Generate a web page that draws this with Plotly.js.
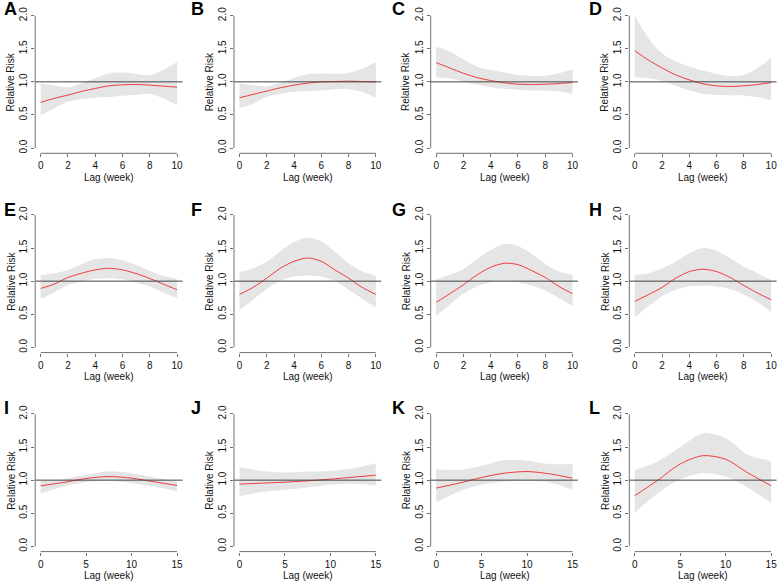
<!DOCTYPE html>
<html>
<head>
<meta charset="utf-8">
<script src="https://cdn.plot.ly/plotly-3.0.1.min.js"></script>
<style>
  body { margin: 0; background: #fff; }
  #chart { width: 778px; height: 581px; }
</style>
</head>
<body>
<div id="chart"></div>
<script>
// lag values (weeks)
var lag10 = [0, 1, 2, 3, 4, 5, 6, 7, 8, 9, 10];
var lag15 = [0, 2.5, 5, 7.5, 10, 12.5, 15];

var panels = ["A", "B", "C", "D", "E", "F", "G", "H", "I", "J", "K", "L"];

// relative risk, lower and upper bounds
var rrA = [0.69, 0.75, 0.80, 0.855, 0.90, 0.94, 0.955, 0.96, 0.95, 0.935, 0.92];
var loA = [0.49, 0.60, 0.70, 0.74, 0.76, 0.77, 0.79, 0.80, 0.82, 0.75, 0.65];
var hiA = [0.97, 0.945, 0.92, 0.98, 1.055, 1.13, 1.14, 1.12, 1.105, 1.18, 1.30];

var rrB = [0.76, 0.81, 0.86, 0.91, 0.95, 0.98, 1.0, 1.005, 1.01, 1.005, 1.0];
var loB = [0.60, 0.67, 0.77, 0.82, 0.85, 0.86, 0.87, 0.89, 0.89, 0.85, 0.76];
var hiB = [0.975, 0.95, 0.93, 0.985, 1.06, 1.115, 1.125, 1.12, 1.135, 1.20, 1.30];

var rrC = [1.29, 1.21, 1.13, 1.065, 1.02, 0.985, 0.965, 0.96, 0.965, 0.975, 0.99];
var loC = [1.065, 1.05, 1.005, 0.955, 0.92, 0.895, 0.88, 0.87, 0.87, 0.855, 0.82];
var hiC = [1.53, 1.46, 1.34, 1.23, 1.18, 1.14, 1.105, 1.09, 1.09, 1.13, 1.19];

var rrD = [1.47, 1.33, 1.21, 1.105, 1.03, 0.97, 0.94, 0.93, 0.94, 0.96, 0.99];
var loD = [1.07, 1.055, 1.02, 0.94, 0.87, 0.82, 0.80, 0.795, 0.795, 0.77, 0.72];
var hiD = [2.0, 1.66, 1.43, 1.31, 1.23, 1.17, 1.12, 1.09, 1.105, 1.21, 1.36];

var rrE = [0.89, 0.955, 1.055, 1.12, 1.17, 1.195, 1.17, 1.115, 1.04, 0.955, 0.87];
var loE = [0.73, 0.83, 0.945, 0.995, 1.035, 1.045, 1.03, 0.985, 0.915, 0.825, 0.745];
var hiE = [1.095, 1.12, 1.17, 1.255, 1.33, 1.35, 1.315, 1.245, 1.155, 1.08, 1.035];

var rrF = [0.80, 0.905, 1.045, 1.195, 1.30, 1.35, 1.30, 1.17, 1.045, 0.905, 0.80];
var loF = [0.56, 0.72, 0.88, 1.005, 1.07, 1.085, 1.065, 1.005, 0.87, 0.735, 0.60];
var hiF = [1.135, 1.195, 1.295, 1.45, 1.59, 1.66, 1.60, 1.445, 1.27, 1.145, 1.08];

var rrG = [0.68, 0.81, 0.945, 1.095, 1.21, 1.27, 1.25, 1.16, 1.055, 0.92, 0.81];
var loG = [0.48, 0.645, 0.81, 0.92, 0.985, 1.005, 0.985, 0.935, 0.86, 0.745, 0.62];
var hiG = [1.03, 1.095, 1.185, 1.335, 1.47, 1.565, 1.53, 1.41, 1.26, 1.145, 1.095];

var rrH = [0.695, 0.795, 0.905, 1.045, 1.145, 1.18, 1.145, 1.055, 0.935, 0.82, 0.72];
var loH = [0.45, 0.62, 0.77, 0.87, 0.92, 0.93, 0.92, 0.88, 0.795, 0.685, 0.53];
var hiH = [1.095, 1.12, 1.195, 1.295, 1.42, 1.50, 1.46, 1.345, 1.22, 1.12, 1.02];

var rrI = [0.915, 0.965, 1.025, 1.055, 1.03, 0.975, 0.92];
var loI = [0.80, 0.905, 0.97, 0.99, 0.955, 0.905, 0.83];
var hiI = [0.99, 1.015, 1.08, 1.135, 1.105, 1.04, 0.98];

var rrJ = [0.94, 0.955, 0.97, 0.99, 1.015, 1.045, 1.075];
var loJ = [0.755, 0.82, 0.855, 0.89, 0.93, 0.945, 0.92];
var hiJ = [1.195, 1.14, 1.115, 1.13, 1.14, 1.18, 1.255];

var rrK = [0.88, 0.955, 1.04, 1.105, 1.13, 1.095, 1.03];
var loK = [0.665, 0.83, 0.93, 0.98, 0.995, 0.965, 0.855];
var hiK = [1.165, 1.155, 1.215, 1.305, 1.295, 1.245, 1.245];

var rrL = [0.765, 0.995, 1.245, 1.37, 1.315, 1.105, 0.915];
var loL = [0.51, 0.80, 1.015, 1.105, 1.055, 0.88, 0.655];
var hiL = [1.155, 1.28, 1.50, 1.71, 1.635, 1.38, 1.29];

var rr = [rrA, rrB, rrC, rrD, rrE, rrF, rrG, rrH, rrI, rrJ, rrK, rrL];
var lo = [loA, loB, loC, loD, loE, loF, loG, loH, loI, loJ, loK, loL];
var hi = [hiA, hiB, hiC, hiD, hiE, hiF, hiG, hiH, hiI, hiJ, hiK, hiL];

var yTicks = [0, 0.5, 1, 1.5, 2];

// page geometry (px)
var W = 778, H = 581;
var colLeft = [35.2, 234, 430.7, 629.3];
var plotW = 147.3;
var rowTop = [10.4, 209.7, 408.7];
var plotH = 142.9;
var letterX = [2, 189, 390, 587];
var letterY = [9, 209.5, 408];

var font = "Liberation Sans, Arial, Helvetica, sans-serif";
var axisCol = "#707070";

var data = [];
var layout = {
  width: W, height: H,
  margin: {l: 0, r: 0, t: 0, b: 0},
  paper_bgcolor: "#fff", plot_bgcolor: "#fff",
  showlegend: false,
  font: {family: font, size: 10, color: "#111"},
  shapes: [], annotations: []
};

for (var i = 0; i < 12; i++) {
  var r = Math.floor(i / 4), c = i % 4;
  var n = i === 0 ? "" : String(i + 1);
  var xa = "x" + n, ya = "y" + n;
  var lags = r < 2 ? lag10 : lag15;
  var xmax = r < 2 ? 10 : 15;
  var x0 = colLeft[c], y0 = rowTop[r];

  data.push({x: lags, y: lo[i], xaxis: xa, yaxis: ya, type: "scatter", mode: "lines",
    line: {width: 0, shape: "spline", smoothing: 0.8}, hoverinfo: "skip"});
  data.push({x: lags, y: hi[i], xaxis: xa, yaxis: ya, type: "scatter", mode: "lines",
    fill: "tonexty", fillcolor: "#e5e5e5",
    line: {width: 0, shape: "spline", smoothing: 0.8}, hoverinfo: "skip"});
  data.push({x: lags, y: rr[i], xaxis: xa, yaxis: ya, type: "scatter", mode: "lines",
    line: {color: "#ee3b3b", width: 1, shape: "spline", smoothing: 0.8}});

  layout["xaxis" + n] = {
    domain: [x0 / W, (x0 + plotW) / W],
    range: [-0.04 * xmax, 1.04 * xmax],
    anchor: ya, showgrid: false, zeroline: false, showline: false,
    ticks: "outside", ticklen: 3, tickwidth: 1, tickcolor: axisCol,
    tickvals: r < 2 ? [0, 2, 4, 6, 8, 10] : [0, 5, 10, 15],
    tickfont: {size: 10, color: "#111"}, fixedrange: true
  };
  layout["yaxis" + n] = {
    domain: [1 - (y0 + plotH) / H, 1 - y0 / H],
    range: [-0.08, 2.08],
    anchor: xa, showgrid: false, zeroline: false, showline: false,
    ticks: "outside", ticklen: 3, tickwidth: 1, tickcolor: axisCol,
    tickvals: yTicks, tickformat: ".1f", tickangle: -90,
    tickfont: {size: 10, color: "#111"}, fixedrange: true
  };

  // R-style axis lines that run between the end ticks
  layout.shapes.push({type: "line", xref: xa, yref: ya + " domain",
    x0: 0, x1: xmax, y0: 0, y1: 0, line: {color: axisCol, width: 1}});
  layout.shapes.push({type: "line", xref: xa + " domain", yref: ya,
    x0: 0, x1: 0, y0: 0, y1: 2, line: {color: axisCol, width: 1}});
  // reference line at RR = 1
  layout.shapes.push({type: "line", xref: xa + " domain", yref: ya,
    x0: 0, x1: 1, y0: 1, y1: 1, line: {color: "#444", width: 1}});

  layout.annotations.push({text: "Relative Risk", textangle: -90, showarrow: false,
    xref: "paper", yref: "paper", x: (x0 - 24.5) / W, y: 1 - (y0 + plotH / 2) / H,
    xanchor: "center", yanchor: "middle", font: {size: 10, color: "#111"}});
  layout.annotations.push({text: "Lag (week)", showarrow: false,
    xref: "paper", yref: "paper", x: (x0 + plotW / 2) / W, y: 1 - (y0 + plotH + 24) / H,
    xanchor: "center", yanchor: "middle", font: {size: 10, color: "#111"}});
  layout.annotations.push({text: "<b>" + panels[i] + "</b>", showarrow: false,
    xref: "paper", yref: "paper", x: letterX[c] / W, y: 1 - letterY[r] / H,
    xanchor: "left", yanchor: "middle", font: {size: 18, color: "#000"}});
}

Plotly.newPlot("chart", data, layout, {displayModeBar: false, staticPlot: true});
</script>
</body>
</html>
